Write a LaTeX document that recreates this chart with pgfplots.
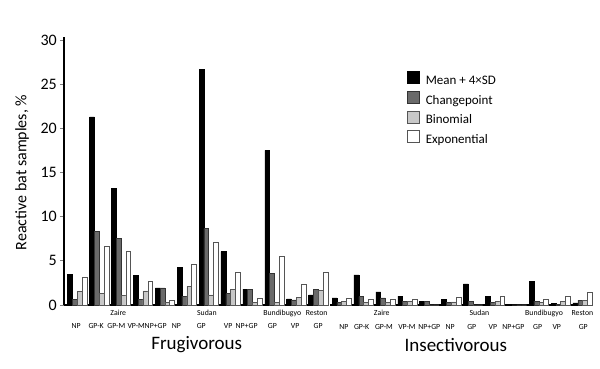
\documentclass[border=0pt]{standalone}
\usepackage{fontspec}
\setmainfont{Carlito}
\usepackage{pgfplots}
\usepackage{pgfplotstable}
\pgfplotsset{compat=1.18}
\definecolor{cpgray}{HTML}{6A6A6A}
\definecolor{bingray}{HTML}{C8C8C8}
\definecolor{edgegray}{HTML}{555555}

\pgfplotstableread{
x a b c d
1 3.45 0.65 1.55 3.15
2 21.3 8.3 1.33 6.7
3 13.25 7.55 1.1 6.1
4 3.35 0.6 1.6 2.7
5 1.95 1.95 0.3 0.55
6 4.3 1.0 2.15 4.6
7 26.7 8.65 1.15 7.1
8 6.05 1.3 1.8 3.65
9 1.8 1.8 0.27 0.78
10 17.5 3.55 0.3 5.5
11 0.68 0.57 0.83 2.3
12 1.15 1.8 1.65 3.65
}\frugi

\pgfplotstableread{
x a b c d
1 0.8 0.3 0.4 0.75
2 3.4 0.95 0.3 0.65
3 1.5 0.8 0.3 0.6
4 1.0 0.4 0.45 0.7
5 0.4 0.4 0 0
6 0.65 0.3 0.35 0.85
7 2.4 0.4 0 0
8 0.95 0.3 0.4 1.0
9 0 0 0 0
10 2.7 0.45 0.3 0.7
11 0.15 0.1 0.45 1.0
12 0.25 0.55 0.55 1.4
}\insect

\tikzset{
  vname/.style={anchor=base, inner sep=0pt, yshift=-11pt, font=\fontsize{7.8}{7.8}\selectfont},
}
\pgfplotsset{
  barbase/.style={
    scale only axis,
    x=21.9pt, y=8.83pt,
    ymin=0, ymax=30.3,
    ybar, bar width=0.22,
    axis x line*=bottom,
    xtick style={draw=none},
    xticklabel style={anchor=base, inner sep=0pt, yshift=-20pt, font=\fontsize{7.8}{7.8}\selectfont},
    clip=false,
  },
  s1/.style={fill=black, draw=black, line width=0.5pt, bar shift=-0.33},
  s2/.style={fill=cpgray, draw=black!80, line width=0.5pt, bar shift=-0.11},
  s3/.style={fill=bingray, draw=edgegray, line width=0.5pt, bar shift=0.11},
  s4/.style={fill=white, draw=edgegray, line width=0.6pt, bar shift=0.33},
}

\begin{document}
\begin{tikzpicture}
\useasboundingbox (-64pt,-64pt) rectangle (536pt,305pt);

% Frugivorous
\begin{axis}[
  barbase,
  at={(0pt,0pt)}, anchor=south west,
  xmin=0.393, xmax=12.388,
  axis y line*=left,
  ytick={0,5,10,15,20,25,30},
  tick align=outside,
  ytick style={line width=0.8pt},
  major tick length=4pt,
  yticklabel style={anchor=east, inner sep=0pt, xshift=-3pt, font=\fontsize{16}{16}\selectfont},
  /pgf/number format/assume math mode=true,
  xtick={0.95,1.86,2.78,3.69,4.58,5.52,6.66,7.89,8.73,9.91,10.95,12.0},
  xticklabels={NP,GP-K,GP-M,VP-M,NP+GP,NP,GP,VP,NP+GP,GP,VP,GP},
  axis line style={line width=1.4pt, -},
]
\addplot[s1] table[x=x,y=a] {\frugi};
\addplot[s2] table[x=x,y=b] {\frugi};
\addplot[s3] table[x=x,y=c] {\frugi};
\addplot[s4] table[x=x,y=d] {\frugi};
\node[vname] at (axis cs:2.87,0) {Zaire};
\node[vname] at (axis cs:6.92,0) {Sudan};
\node[vname] at (axis cs:10.36,0) {Bundibugyo};
\node[vname] at (axis cs:11.93,0) {Reston};
\end{axis}

% Insectivorous
\begin{axis}[
  barbase,
  at={(266pt,0pt)}, anchor=south west,
  xmin=0.466, xmax=12.46,
  axis y line=none,
  xtick={1.1,1.91,2.93,3.98,5.0,5.95,6.94,7.9,8.84,9.95,10.82,12.03},
  xticklabels={NP,GP-K,GP-M,VP-M,NP+GP,NP,GP,VP,NP+GP,GP,VP,GP},
  axis line style={line width=1.4pt, -},
  legend style={at={(rel axis cs:0.293,0.875)}, anchor=north west, draw=none, fill=none,
    inner sep=0pt, row sep=3.5pt, column sep=6pt,
    font=\fontsize{13}{13}\selectfont,
    nodes={inner sep=0pt, text height=9pt, text depth=3pt}},
  legend cell align=left,
  legend image code/.code={\draw[#1] (0pt,-2pt) rectangle (12pt,10pt);},
]
\addplot[s1] table[x=x,y=a] {\insect};
\addlegendentry{Mean + 4×SD}
\addplot[s2] table[x=x,y=b] {\insect};
\addlegendentry{Changepoint}
\addplot[s3] table[x=x,y=c] {\insect};
\addlegendentry{Binomial}
\addplot[s4] table[x=x,y=d] {\insect};
\addlegendentry{Exponential}
\node[vname] at (axis cs:2.83,0) {Zaire};
\node[vname] at (axis cs:7.29,0) {Sudan};
\node[vname] at (axis cs:10.24,0) {Bundibugyo};
\node[vname] at (axis cs:11.99,0) {Reston};
\end{axis}

\node[rotate=90, font=\fontsize{16}{16}\selectfont] at (-42pt,132.5pt) {Reactive bat samples, \%};
\node[anchor=base, font=\fontsize{19}{19}\selectfont, inner sep=0pt] at (132.7pt,-45pt) {Frugivorous};
\node[anchor=base, font=\fontsize{19}{19}\selectfont, inner sep=0pt] at (391.8pt,-47pt) {Insectivorous};
\end{tikzpicture}
\end{document}
